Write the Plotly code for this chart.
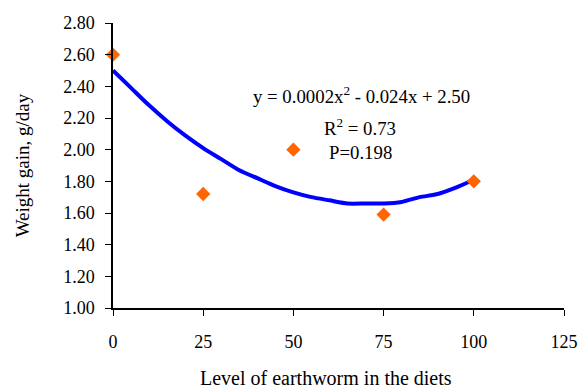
import plotly.graph_objects as go

# Observed data points
levels = [0, 25, 50, 75, 100]
weight_gain = [2.60, 1.72, 2.00, 1.59, 1.80]

# Trend line values
trend_x = [0, 5, 10, 15, 20, 25, 30, 35, 40, 45, 50, 55, 60, 65, 70, 75, 80, 85, 90, 95, 100]
trend_y = [2.50, 2.39, 2.28, 2.18, 2.09, 2.01, 1.94, 1.87, 1.82, 1.77, 1.73, 1.70, 1.68, 1.66,
           1.66, 1.66, 1.67, 1.70, 1.72, 1.76, 1.81]

x_ticks = [0, 25, 50, 75, 100, 125]
y_ticks = [1.00, 1.20, 1.40, 1.60, 1.80, 2.00, 2.20, 2.40, 2.60, 2.80]

FONT = "Liberation Serif, Times New Roman, serif"

fig = go.Figure()
fig.add_trace(go.Scatter(x=trend_x, y=trend_y, mode="lines",
                         line=dict(color="#0000FF", width=4, shape="spline", smoothing=0.6),
                         showlegend=False, cliponaxis=False))
fig.add_trace(go.Scatter(x=levels, y=weight_gain, mode="markers",
                         marker=dict(symbol="diamond", color="#FF6600", size=11),
                         showlegend=False, cliponaxis=False))

axis_common = dict(showgrid=False, zeroline=False, showline=True, linecolor="black",
                   linewidth=1.5, ticks="outside", ticklen=6, tickcolor="black",
                   automargin=False,
                   tickfont=dict(family=FONT, size=18, color="black"))

fig.update_xaxes(range=[0, 125], tickvals=x_ticks, ticktext=[str(v) for v in x_ticks],
                 ticklabelstandoff=11, **axis_common)
fig.update_yaxes(range=[1.0, 2.8], tickvals=y_ticks, ticktext=[f"{v:.2f}" for v in y_ticks],
                 ticklabelstandoff=7, **axis_common)

fig.add_annotation(x=-0.2, y=0.5, xref="paper", yref="paper", text="Weight gain, g/day",
                   textangle=-90, showarrow=False, xanchor="center", yanchor="middle",
                   font=dict(family=FONT, size=19, color="black"))
fig.add_annotation(x=0.472, y=-0.247, xref="paper", yref="paper",
                   text="Level of earthworm in the diets", showarrow=False,
                   xanchor="center", yanchor="middle",
                   font=dict(family=FONT, size=20, color="black"))

fig.add_annotation(x=69.0, y=2.345, text="y = 0.0002x<sup>2</sup> - 0.024x + 2.50",
                   showarrow=False, font=dict(family=FONT, size=18.8, color="black"))
fig.add_annotation(x=68.5, y=2.142, text="R<sup>2</sup> = 0.73",
                   showarrow=False, font=dict(family=FONT, size=18.8, color="black"))
fig.add_annotation(x=68.7, y=1.985, text="P=0.198",
                   showarrow=False, font=dict(family=FONT, size=18.8, color="black"))

fig.update_layout(width=579, height=390, margin=dict(l=113, r=15, t=23, b=82),
                  plot_bgcolor="white", paper_bgcolor="white")

fig.write_html("out.html", config={"displayModeBar": False},
               post_script="document.body.style.margin='0';document.body.style.overflow='hidden';")
